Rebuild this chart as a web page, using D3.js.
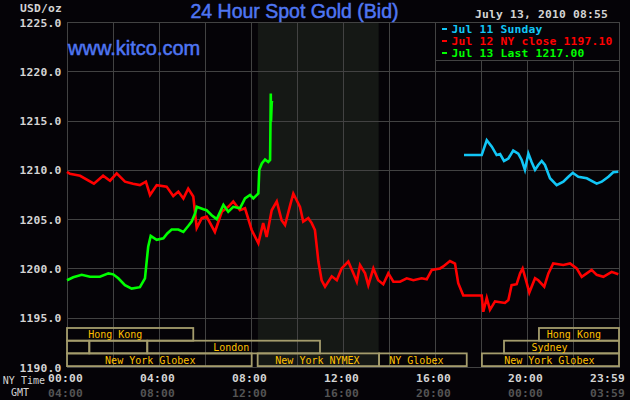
<!DOCTYPE html>
<html><head><meta charset="utf-8">
<script src="https://cdn.jsdelivr.net/npm/d3@7"></script>
<style>html,body{margin:0;padding:0;background:#050307;}svg{display:block;}</style>
</head><body>
<svg id="c" width="630" height="400"></svg>
<script>
// ---- data (hours since 00:00 NY time, price USD/oz) ----
const jul11 = [[17.26,1211.5],[18.03,1211.5],[18.25,1213.0],[18.47,1212.35],[18.68,1211.5],[18.83,1211.6],[19.0,1210.9],[19.19,1211.15],[19.4,1211.95],[19.62,1211.65],[19.77,1211.0],[19.91,1210.0],[20.06,1211.65],[20.2,1210.8],[20.35,1210.0],[20.49,1210.5],[20.64,1210.9],[20.78,1210.5],[21.0,1209.15],[21.29,1208.45],[21.58,1208.8],[21.8,1209.3],[21.99,1209.7],[22.23,1209.3],[22.6,1209.15],[23.03,1208.6],[23.25,1208.8],[23.54,1209.3],[23.75,1209.75],[23.97,1209.8]];
const jul12 = [[0,1209.8],[0.13,1209.6],[0.35,1209.5],[0.57,1209.4],[1.17,1208.6],[1.57,1209.4],[1.87,1208.9],[2.16,1209.65],[2.52,1208.8],[2.87,1208.6],[3.17,1208.45],[3.43,1208.8],[3.61,1207.45],[3.9,1208.45],[4.33,1208.3],[4.62,1207.35],[4.84,1207.8],[5.06,1207.1],[5.27,1208.1],[5.49,1207.3],[5.64,1204.1],[5.86,1205.1],[6.07,1205.25],[6.43,1203.7],[6.73,1205.75],[7.01,1206.25],[7.23,1206.8],[7.52,1205.9],[7.74,1206.1],[8.03,1203.9],[8.32,1202.55],[8.53,1204.6],[8.68,1203.2],[8.9,1205.9],[9.12,1206.8],[9.33,1204.9],[9.48,1204.4],[9.7,1206.4],[9.84,1207.6],[10.13,1206.25],[10.27,1204.75],[10.49,1205.1],[10.64,1204.6],[10.78,1203.9],[10.93,1200.7],[11.07,1198.8],[11.22,1198.15],[11.51,1199.2],[11.73,1198.8],[11.94,1200.0],[12.23,1200.7],[12.45,1199.5],[12.6,1198.65],[12.74,1200.35],[12.96,1199.5],[13.1,1198.3],[13.32,1200.0],[13.53,1198.8],[13.75,1198.4],[13.97,1199.5],[14.19,1198.65],[14.48,1198.65],[14.77,1199.0],[15.06,1198.8],[15.42,1199.0],[15.64,1198.9],[15.86,1199.85],[16.22,1200.0],[16.36,1200.2],[16.65,1200.75],[16.87,1200.5],[17.01,1198.5],[17.23,1197.25],[18.03,1197.25],[18.1,1195.6],[18.25,1197.0],[18.39,1195.8],[18.61,1196.65],[19.04,1196.5],[19.19,1196.8],[19.33,1198.3],[19.55,1198.4],[19.7,1199.5],[19.81,1200.0],[19.99,1198.5],[20.1,1197.55],[20.35,1199.0],[20.49,1198.8],[20.75,1198.15],[20.93,1199.5],[21.14,1200.5],[21.58,1200.35],[21.87,1200.5],[22.16,1200.0],[22.38,1199.15],[22.81,1199.85],[23.03,1199.35],[23.32,1199.15],[23.68,1199.65],[23.97,1199.4]];
const jul13 = [[0,1198.8],[0.27,1199.1],[0.64,1199.35],[1.0,1199.15],[1.43,1199.15],[1.8,1199.5],[2.01,1199.4],[2.23,1199.0],[2.52,1198.3],[2.81,1197.95],[3.17,1198.1],[3.39,1199.0],[3.47,1200.85],[3.53,1202.2],[3.64,1203.3],[3.9,1202.9],[4.19,1203.05],[4.36,1203.55],[4.55,1203.95],[4.84,1203.95],[5.06,1203.7],[5.27,1204.3],[5.42,1204.75],[5.57,1205.6],[5.64,1206.25],[5.93,1206.0],[6.07,1205.9],[6.29,1205.4],[6.51,1205.0],[6.8,1206.45],[7.01,1205.75],[7.23,1206.25],[7.52,1206.1],[7.74,1207.1],[7.96,1207.45],[8.1,1207.1],[8.32,1207.6],[8.36,1210.0],[8.47,1210.65],[8.61,1211.05],[8.75,1210.8],[8.83,1211.0],[8.86,1217.75],[8.87,1214.9],[8.9,1216.8],[8.92,1217.0]];
const seriesNames = ["Jul 11 Sunday","Jul 12 NY close 1197.10","Jul 13 Last 1217.00"];
const yTicks = [1190,1195,1200,1205,1210,1215,1220,1225];
const nyTimeLabels = ["00:00","04:00","08:00","12:00","16:00","20:00","23:59"];
const gmtLabels = ["04:00","08:00","12:00","16:00","20:00","00:00","03:59"];
const labelHours = [0,4,8,12,16,20,24];
const nymexShade = [8.3,13.55];
// sessions: row, start hour, end hour, label, label centre hour
const sessRow   = [0,0,1,1,1,1,2,2,2,2];
const sessStart = [0,20.52,0,0.97,3.49,19.0,0,8.29,13.57,18.04];
const sessEnd   = [5.49,24,0.97,3.49,11.0,24,8.03,13.57,17.38,24];
const sessLabel = ["Hong Kong","Hong Kong","","","London","Sydney","New York Globex","New York NYMEX","NY Globex","New York Globex"];
const sessMid   = [2.1,22.04,0,0,7.14,20.98,3.62,10.89,15.19,20.97];
const title = "24 Hour Spot Gold (Bid)";
const site = "www.kitco.com";
const stamp = "July 13, 2010 08:55";

// ---- drawing ----
const svg = d3.select("#c");
const L=67,R=619,T=22,B=367;
const x = d3.scaleLinear().domain([0,24]).range([L,R]);
const y = d3.scaleLinear().domain([1190,1225]).range([B,T]);
const grid = "#424242", mono = "'DejaVu Sans Mono', monospace";
const colors = ["#12c6f6","#ff0000","#00ff00"];
const fs = "11.3px";

svg.append("rect").attr("width",630).attr("height",400).attr("fill","#050307");
svg.append("rect").attr("x",x(nymexShade[0])).attr("y",T).attr("width",x(nymexShade[1])-x(nymexShade[0])).attr("height",B-T).attr("fill","#151815");

const g = svg.append("g");
g.selectAll(".vg").data(d3.range(0,25,2)).join("line")
  .attr("x1",d=>x(d)+0.5).attr("x2",d=>x(d)+0.5).attr("y1",T).attr("y2",B)
  .attr("stroke",grid).attr("stroke-width",1);
g.selectAll(".hg").data(yTicks).join("line")
  .attr("x1",L).attr("x2",R+1).attr("y1",d=>Math.round(y(d))+0.5).attr("y2",d=>Math.round(y(d))+0.5)
  .attr("stroke",grid).attr("stroke-width",1);

// session boxes
const rowTop = i => 328 + i*12.7;
const sess = d3.range(sessRow.length);
svg.selectAll(".sb").data(sess).join("rect")
  .attr("x",i=>x(sessStart[i])).attr("y",i=>rowTop(sessRow[i]))
  .attr("width",i=>x(sessEnd[i])-x(sessStart[i])).attr("height",12.7)
  .attr("fill","none").attr("stroke","#a49c6c").attr("stroke-width",1.8);
svg.selectAll(".sl").data(sess.filter(i=>sessLabel[i])).join("text")
  .attr("x",i=>x(sessMid[i])).attr("y",i=>rowTop(sessRow[i])+10.3)
  .attr("text-anchor","middle").attr("fill","#ffc000")
  .style("font-family",mono).style("font-size","10px").text(i=>sessLabel[i]);

// lines
const line = d3.line().x(d=>x(d[0])).y(d=>y(d[1]));
[jul11,jul12,jul13].forEach((s,i)=>{
  svg.append("path").datum(s).attr("d",line).attr("fill","none")
    .attr("stroke",colors[i]).attr("stroke-width",2.6).attr("stroke-linejoin","miter");
});

// legend
const lx = x(16), lw = R - lx;
svg.append("rect").attr("x",lx+0.5).attr("y",T+0.5).attr("width",lw).attr("height",38)
  .attr("fill","#050307").attr("stroke",grid);
seriesNames.forEach((n,i)=>{
  const by = 33 + i*12;
  svg.append("rect").attr("x",lx+7).attr("y",by-5).attr("width",5).attr("height",2).attr("fill",colors[i]);
  svg.append("text").attr("x",lx+16.5).attr("y",by).attr("fill",colors[i])
    .style("font-family",mono).style("font-size",fs).style("font-weight","bold")
    .style("letter-spacing","0.2px").text(n);
});

// y axis labels
svg.selectAll(".yt").data(yTicks).join("text")
  .attr("x",61.5).attr("y",d=>y(d)+4.5).attr("text-anchor","end").attr("fill","#d4d4d4")
  .style("font-family",mono).style("font-size",fs).style("font-weight","bold").style("letter-spacing","0.2px")
  .text(d=>d3.format(".1f")(d));
svg.append("text").attr("x",62).attr("y",12).attr("text-anchor","end").attr("fill","#d4d4d4")
  .style("font-family",mono).style("font-size",fs).style("font-weight","bold").style("letter-spacing","0.2px").text("USD/oz");

// x axis labels
const lastIdx = labelHours.length-1;
const xl = (h,i) => i===lastIdx ? x(h)+6 : x(h)-1.5;
const anchor = (h,i) => i===lastIdx ? "end" : "middle";
svg.selectAll(".xn").data(labelHours).join("text")
  .attr("x",xl).attr("y",382).attr("text-anchor",anchor).attr("fill","#d4d4d4")
  .style("font-family",mono).style("font-size",fs).style("font-weight","bold").style("letter-spacing","0.2px")
  .text((d,i)=>nyTimeLabels[i]);
svg.selectAll(".xg").data(labelHours).join("text")
  .attr("x",xl).attr("y",397).attr("text-anchor",anchor).attr("fill","#545454")
  .style("font-family",mono).style("font-size",fs).style("font-weight","bold").style("letter-spacing","0.2px")
  .text((d,i)=>gmtLabels[i]);
svg.append("text").attr("x",45).attr("y",384).attr("text-anchor","end").attr("fill","#d4d4d4")
  .style("font-family",mono).style("font-size","10px").text("NY Time");
svg.append("text").attr("x",29).attr("y",396).attr("text-anchor","end").attr("fill","#d4d4d4")
  .style("font-family",mono).style("font-size","10px").text("GMT");

// title, site, stamp
svg.append("text").attr("x",294.5).attr("y",17.5).attr("text-anchor","middle").attr("fill","#4f76f2")
  .attr("stroke","#4f76f2").attr("stroke-width",0.5)
  .style("font-family","'Liberation Sans', Arial, sans-serif").style("font-size","19.5px").text(title);
svg.append("text").attr("x",68).attr("y",55).attr("fill","#4f76f2")
  .attr("stroke","#4f76f2").attr("stroke-width",0.5)
  .style("font-family","'Liberation Sans', Arial, sans-serif").style("font-size","20px").text(site);
svg.append("text").attr("x",608).attr("y",18).attr("text-anchor","end").attr("fill","#d4d4d4")
  .style("font-family",mono).style("font-size",fs).style("font-weight","bold").style("letter-spacing","0.2px").text(stamp);
</script>
</body></html>
